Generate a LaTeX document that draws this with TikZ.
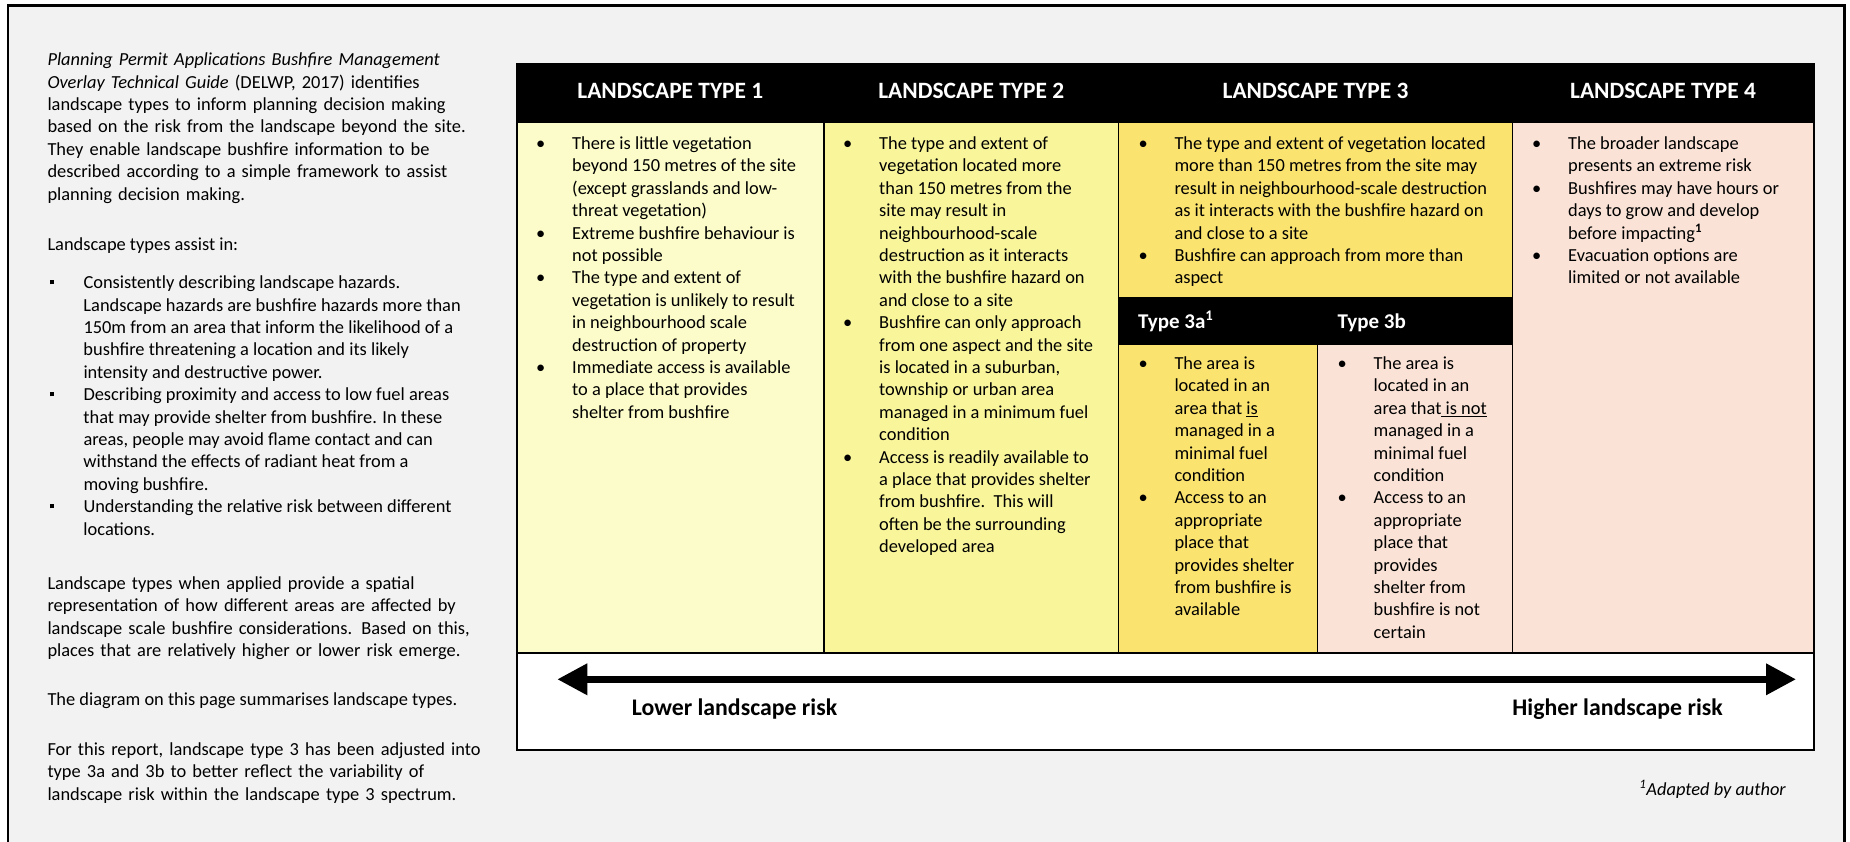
\documentclass[tikz,border=0pt]{standalone}
\usepackage{fontspec}
\setmainfont{Carlito}
\usetikzlibrary{arrows.meta}
\definecolor{pagegray}{HTML}{F2F2F2}
\definecolor{lsone}{HTML}{FCFCCA}
\definecolor{lstwo}{HTML}{F9F59B}
\definecolor{lsthree}{HTML}{FAE36F}
\definecolor{lsfour}{HTML}{FAE3D6}
\newcommand{\bitem}[1]{\par\noindent\hangindent=36pt\hangafter=1\makebox[36pt][l]{\textbullet}#1\par}
\newcommand{\sqitem}[1]{\par\noindent\hangindent=36pt\hangafter=1\makebox[36pt][l]{\hspace{2pt}\rule[4.2pt]{4.6pt}{4.6pt}}#1\par}
\newcommand{\cellbox}[2]{\begin{minipage}[t]{#1}#2\end{minipage}}
\tikzset{
  bodytext/.style={anchor=base west, inner sep=0pt, align=left,
    font=\fontsize{18.4pt}{22.4pt}\selectfont},
  celltext/.style={anchor=base west, inner sep=0pt,
    font=\fontsize{18.4pt}{22.4pt}\selectfont},
  headtext/.style={anchor=base, inner sep=0pt, text=white,
    font=\fontsize{23.4pt}{28pt}\selectfont\bfseries},
  subhead/.style={anchor=base west, inner sep=0pt, text=white,
    font=\fontsize{21pt}{25pt}\selectfont\bfseries},
  risktext/.style={anchor=base, inner sep=0pt,
    font=\fontsize{23.8pt}{28pt}\selectfont\bfseries},
  border/.style={line width=2pt},
  divider/.style={line width=1.6pt},
}
\begin{document}
\begin{tikzpicture}[x=1pt,y=-1pt]
\useasboundingbox (0,0) rectangle (1850,842);
% page
\fill[white] (0,0) rectangle (1850,842);
\fill[pagegray] (8,5.5) rectangle (1844.5,850);
\draw[line width=2.5pt] (8,850) -- (8,5.5) -- (1844.5,5.5) -- (1844.5,850);

% left text
\node[bodytext, text width=470pt] (intro) at (47.3,65.7)
 {\textit{Planning Permit Applications Bushfire Management}\\
  \textit{Overlay Technical Guide} (DELWP, 2017) identifies\\
  landscape types to inform planning decision making\\
  based on the risk from the landscape beyond the site.\\
  They enable landscape bushfire information to be\\
  described according to a simple framework to assist\\
  planning decision making.};
\node[bodytext] (assist) at (47.3,250.6) {Landscape types assist in:};
\node[celltext] (assistlist) at (47.3,288.7)
 {\cellbox{470pt}{\sqitem{Consistently describing landscape hazards.\\
  Landscape hazards are bushfire hazards more than\\
  150m from an area that inform the likelihood of a\\
  bushfire threatening a location and its likely\\
  intensity and destructive power.}
  \sqitem{Describing proximity and access to low fuel areas\\
  that may provide shelter from bushfire. In these\\
  areas, people may avoid flame contact and can\\
  withstand the effects of radiant heat from a\\
  moving bushfire.}
  \sqitem{Understanding the relative risk between different\\
  locations.}}};
\node[bodytext, text width=470pt] (applied) at (47.3,589.5)
 {Landscape types when applied provide a spatial\\
  representation of how different areas are affected by\\
  landscape scale bushfire considerations. Based on this,\\
  places that are relatively higher or lower risk emerge.};
\node[bodytext] (summary) at (47.3,705.5)
 {The diagram on this page summarises landscape types.};
\node[bodytext, text width=470pt] (report) at (47.3,755.5)
 {For this report, landscape type 3 has been adjusted into\\
  type 3a and 3b to better reflect the variability of\\
  landscape risk within the landscape type 3 spectrum.};

% table fills
\fill[black] (516.7,64) rectangle (1813.5,123);
\fill[lsone] (516.7,123) rectangle (824,653.3);
\fill[lstwo] (824,123) rectangle (1118.5,653.3);
\fill[lsthree] (1118.5,123) rectangle (1512.5,297);
\fill[black] (1118.5,297) rectangle (1512.5,344.5);
\fill[lsthree] (1118.5,344.5) rectangle (1317.6,653.3);
\fill[lsfour] (1317.6,344.5) rectangle (1512.5,653.3);
\fill[lsfour] (1512.5,123) rectangle (1813.5,653.3);
\fill[white] (516.7,653.3) rectangle (1813.5,749.5);
% table lines
\draw[divider] (824,123) -- (824,653.3);
\draw[divider] (1118.5,123) -- (1118.5,653.3);
\draw[divider] (1512.5,123) -- (1512.5,653.3);
\draw[divider] (1317.6,344.5) -- (1317.6,653.3);
\draw[border] (516.7,653.3) -- (1813.5,653.3);
\draw[border] (516.7,64) rectangle (1813.5,749.5);

% headers
\node[headtext] (h1) at (670.3,98.3) {LANDSCAPE TYPE 1};
\node[headtext] (h2) at (971.2,98.3) {LANDSCAPE TYPE 2};
\node[headtext] (h3) at (1315.5,98.3) {LANDSCAPE TYPE 3};
\node[headtext] (h4) at (1663,98.3) {LANDSCAPE TYPE 4};
\node[subhead] (h3a) at (1138,328.5) {Type 3a\textsuperscript{1}};
\node[subhead] (h3b) at (1337.5,328.5) {Type 3b};

% cells
\node[celltext] (c1) at (536,149.5)
 {\cellbox{285pt}{\bitem{There is little vegetation\\ beyond 150 metres of the site\\ (except grasslands and low-\\ threat vegetation)}
  \bitem{Extreme bushfire behaviour is\\ not possible}
  \bitem{The type and extent of\\ vegetation is unlikely to result\\ in neighbourhood scale\\ destruction of property}
  \bitem{Immediate access is available\\ to a place that provides\\ shelter from bushfire}}};
\node[celltext] (c2) at (843,149.5)
 {\cellbox{272pt}{\bitem{The type and extent of\\ vegetation located more\\ than 150 metres from the\\ site may result in\\ neighbourhood-scale\\ destruction as it interacts\\ with the bushfire hazard on\\ and close to a site}
  \bitem{Bushfire can only approach\\ from one aspect and the site\\ is located in a suburban,\\ township or urban area\\ managed in a minimum fuel\\ condition}
  \bitem{Access is readily available to\\ a place that provides shelter\\ from bushfire.\ \ This will\\ often be the surrounding\\ developed area}}};
\node[celltext] (c3) at (1138.3,149.5)
 {\cellbox{372pt}{\bitem{The type and extent of vegetation located\\ more than 150 metres from the site may\\ result in neighbourhood-scale destruction\\ as it interacts with the bushfire hazard on\\ and close to a site}
  \bitem{Bushfire can approach from more than\\ aspect}}};
\node[celltext] (c3a) at (1138.3,369.5)
 {\cellbox{180pt}{\bitem{The area is\\ located in an\\ area that \underline{is}\\ managed in a\\ minimal fuel\\ condition}
  \bitem{Access to an\\ appropriate\\ place that\\ provides shelter\\ from bushfire is\\ available}}};
\node[celltext] (c3b) at (1337.5,369.5)
 {\cellbox{175pt}{\bitem{The area is\\ located in an\\ area that\underline{\ is not}\\ managed in a\\ minimal fuel\\ condition}
  \bitem{Access to an\\ appropriate\\ place that\\ provides\\ shelter from\\ bushfire is not\\ certain}}};
\node[celltext] (c4) at (1532,149.5)
 {\cellbox{280pt}{\bitem{The broader landscape\\ presents an extreme risk}
  \bitem{Bushfires may have hours or\\ days to grow and develop\\ before impacting\textsuperscript{\textbf{1}}}
  \bitem{Evacuation options are\\ limited or not available}}};

% risk arrow
\coordinate (arL) at (557.3,679.3);
\coordinate (arR) at (1796,679.3);
\draw[line width=6.7pt, {Triangle[length=30pt,width=30pt]}-{Triangle[length=30pt,width=30pt]}] (arL) -- (arR);
\node[risktext] (lower) at (734.5,715.5) {Lower landscape risk};
\node[risktext] (higher) at (1617.6,715.5) {Higher landscape risk};

% footnote
\node[anchor=base east, inner sep=0pt, font=\fontsize{18.4pt}{22.4pt}\selectfont\itshape] (foot) at (1786,795) {\textsuperscript{1}Adapted by author};
\end{tikzpicture}
\end{document}
